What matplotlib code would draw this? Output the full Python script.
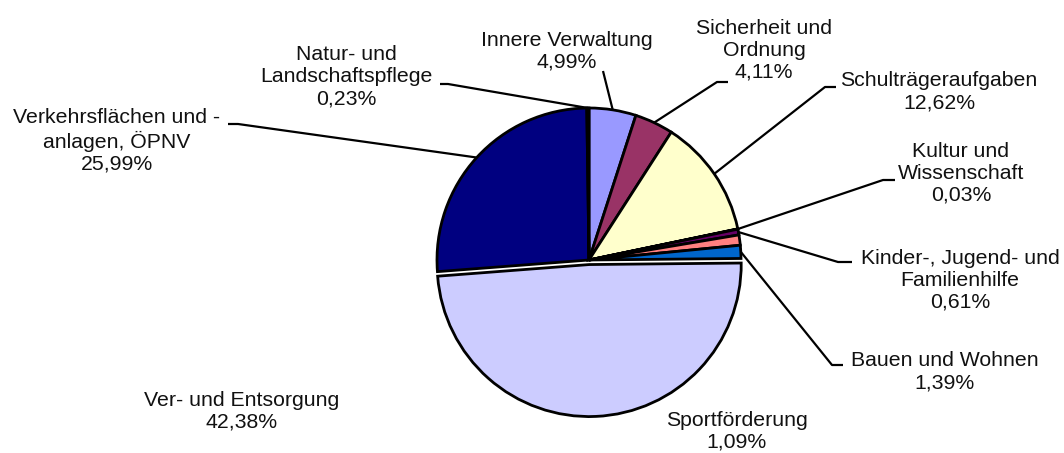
import matplotlib
matplotlib.use("Agg")
import matplotlib.pyplot as plt
import numpy as np

# ---- data ----
categories = [
    "Innere Verwaltung",
    "Sicherheit und\nOrdnung",
    "Schulträgeraufgaben",
    "Kultur und\nWissenschaft",
    "Kinder-, Jugend- und\nFamilienhilfe",
    "Sportförderung",
    "Bauen und Wohnen",
    "Ver- und Entsorgung",
    "Verkehrsflächen und -\nanlagen, ÖPNV",
    "Natur- und\nLandschaftspflege",
]
# wedge sizes as drawn in the pie
shares = [4.99, 4.11, 12.62, 0.03, 0.61, 1.09, 1.39, 48.94, 25.99, 0.23]
# percentages as printed in the labels
pct_labels = ["4,99%", "4,11%", "12,62%", "0,03%", "0,61%", "1,09%",
              "1,39%", "42,38%", "25,99%", "0,23%"]
colors = ["#9999FF", "#993366", "#FFFFCC", "#CCFFFF", "#660066",
          "#FF8080", "#0066CC", "#CCCCFF", "#000080", "#FF00FF"]

# ---- layout (pixels) ----
W, H = 1064, 453
cx, cy, R = 589, 260, 152
explode = [0, 0, 0, 0, 0, 0, 0, 0.03, 0, 0]
# label block centres (px)
label_pos = [(567, 51), (764, 50), (939, 92), (961, 173), (960, 280),
             (737, 431), (945, 372), (242, 411), (117, 141), (346, 77)]
# leader lines: list of points after the wedge anchor (px), or None
leaders = [
    [(603, 71)],
    [(717, 82), (728, 82)],
    [(825, 87), (836, 87)],
    [(883, 180), (895, 180)],
    [(838, 262), (852, 262)],
    None,
    [(832, 365), (843, 365)],
    None,
    [(238, 124), (228, 124)],
    [(448, 84), (440, 84)],
]

FONT = ["Liberation Sans", "DejaVu Sans"]


def px(x, y):
    return ((x - cx) / R, (cy - y) / R)


fig = plt.figure(figsize=(W / 100, H / 100), dpi=100)
ax = fig.add_axes([0, 0, 1, 1])
wedges, _ = ax.pie(shares, colors=colors, startangle=90, counterclock=False,
                   explode=explode, radius=1,
                   wedgeprops=dict(edgecolor="black", linewidth=2.0))
ax.set_xlim(-cx / R, (W - cx) / R)
ax.set_ylim(-(H - cy) / R, cy / R)
ax.set_aspect("equal")
ax.axis("off")

for w, cat, pct, pos, lead in zip(wedges, categories, pct_labels, label_pos, leaders):
    tx, ty = px(*pos)
    ax.text(tx, ty, f"{cat}\n{pct}", ha="center", va="center",
            multialignment="center", fontsize=15.3, family=FONT,
            linespacing=1.2, color="#111111")
    if lead:
        mid = np.deg2rad((w.theta1 + w.theta2) / 2)
        x0 = w.center[0] + np.cos(mid)
        y0 = w.center[1] + np.sin(mid)
        pts = [(x0, y0)] + [px(*p) for p in lead]
        xs, ys = zip(*pts)
        ax.plot(xs, ys, color="black", lw=1.6, solid_capstyle="butt", zorder=0.5)

fig.savefig("out.png", dpi=100, facecolor="white")
